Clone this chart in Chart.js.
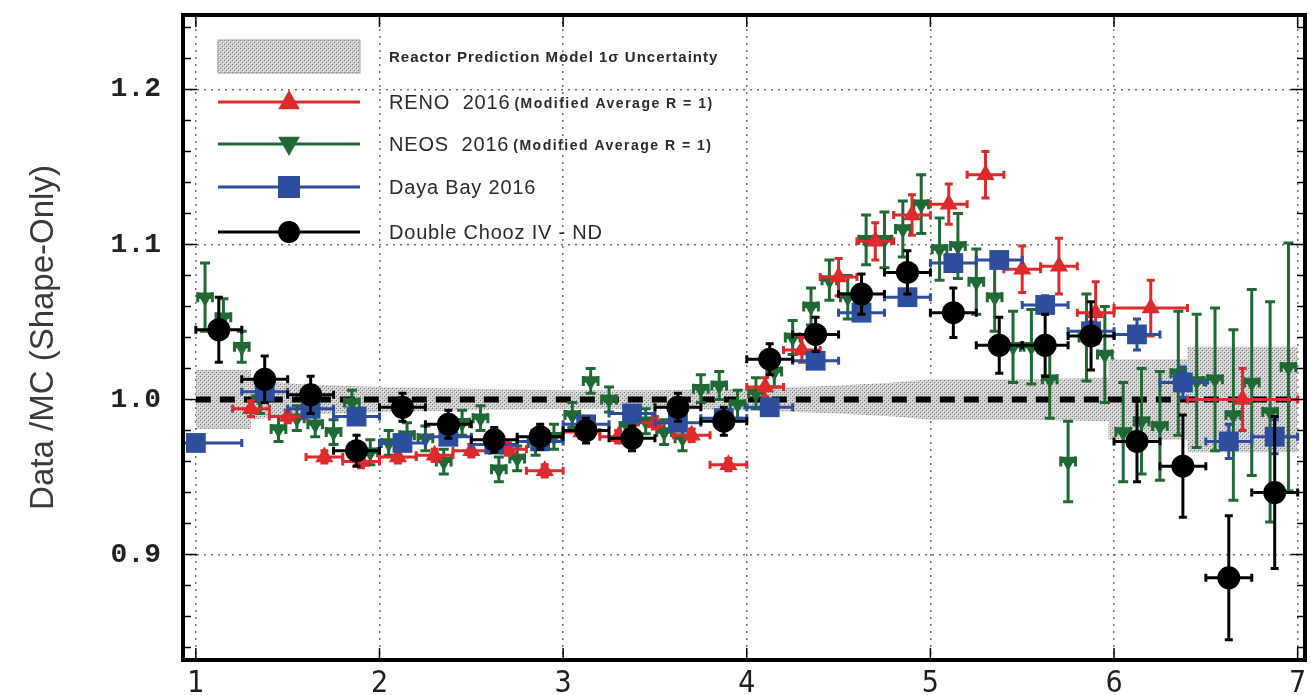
<!DOCTYPE html>
<html>
<head>
<meta charset="utf-8">
<script src="https://cdn.jsdelivr.net/npm/chart.js"></script>
<style>
  body { margin: 0; background: #fff; }
  canvas { display: block; }
</style>
</head>
<body>
<canvas id="ratioChart" width="1311" height="695"></canvas>
<script>
// Tick values
const xTicks = [1, 2, 3, 4, 5, 6, 7];
const yTicks = [0.9, 1.0, 1.1, 1.2];

// Reactor prediction model uncertainty band (energy, half width around 1)
const bandX    = [1.00, 1.30, 1.30, 1.55, 2.00, 2.50, 3.00, 3.50, 4.00, 4.50, 4.80, 5.00, 5.50, 5.97, 5.97, 6.40, 6.40, 7.00];
const bandHalf = [0.019, 0.019, 0.013, 0.010, 0.008, 0.007, 0.006, 0.006, 0.007, 0.009, 0.011, 0.013, 0.013, 0.014, 0.026, 0.026, 0.034, 0.034];

// RENO 2016
const renoX    = [1.3, 1.5, 1.7, 1.9, 2.1, 2.3, 2.5, 2.7, 2.9, 3.1, 3.3, 3.5, 3.7, 3.9, 4.1, 4.3, 4.5, 4.7, 4.9, 5.1, 5.3, 5.5, 5.7, 5.9, 6.2, 6.7];
const renoY    = [0.994, 0.989, 0.963, 0.960, 0.963, 0.964, 0.967, 0.968, 0.954, 0.979, 0.976, 0.985, 0.977, 0.958, 1.008, 1.032, 1.079, 1.102, 1.119, 1.126, 1.145, 1.084, 1.086, 1.056, 1.059, 1.000];
const renoXErr = [0.1, 0.1, 0.1, 0.1, 0.1, 0.1, 0.1, 0.1, 0.1, 0.1, 0.1, 0.1, 0.1, 0.1, 0.1, 0.1, 0.1, 0.1, 0.1, 0.1, 0.1, 0.1, 0.1, 0.1, 0.2, 0.3];
const renoYErr = [0.005, 0.004, 0.004, 0.004, 0.004, 0.004, 0.004, 0.004, 0.004, 0.004, 0.004, 0.004, 0.004, 0.004, 0.006, 0.008, 0.012, 0.012, 0.013, 0.013, 0.015, 0.015, 0.018, 0.020, 0.018, 0.020];

// NEOS 2016
const neosX = [1.05, 1.15, 1.25, 1.35, 1.45, 1.55, 1.65, 1.75, 1.85, 1.95,
               2.05, 2.15, 2.25, 2.35, 2.45, 2.55, 2.65, 2.75, 2.85, 2.95,
               3.05, 3.15, 3.25, 3.35, 3.45, 3.55, 3.65, 3.75, 3.85, 3.95,
               4.05, 4.15, 4.25, 4.35, 4.45, 4.55, 4.65, 4.75, 4.85, 4.95,
               5.05, 5.15, 5.25, 5.35, 5.45, 5.55, 5.65, 5.75, 5.85, 5.95,
               6.05, 6.15, 6.25, 6.35, 6.45, 6.55, 6.65, 6.75, 6.85, 6.95];
const neosY = [1.066, 1.053, 1.034, 1.000, 0.981, 0.988, 0.984, 0.979, 0.998, 0.966,
               0.972, 0.977, 0.975, 0.960, 0.985, 0.988, 0.955, 0.962, 0.972, 0.976,
               0.990, 1.012, 1.000, 0.983, 0.986, 0.979, 0.975, 1.007, 1.009, 0.997,
               1.004, 1.018, 1.040, 1.060, 1.077, 1.066, 1.103, 1.103, 1.110, 1.126,
               1.097, 1.099, 1.076, 1.066, 1.034, 1.034, 1.013, 0.960, 1.040, 1.029,
               0.979, 0.986, 0.983, 1.017, 1.012, 1.013, 0.990, 1.011, 0.992, 1.021];
const neosYErr = [0.022, 0.012, 0.010, 0.009, 0.008, 0.008, 0.008, 0.008, 0.008, 0.008,
                  0.008, 0.008, 0.008, 0.008, 0.008, 0.008, 0.008, 0.008, 0.008, 0.008,
                  0.008, 0.008, 0.008, 0.008, 0.008, 0.008, 0.008, 0.009, 0.009, 0.009,
                  0.010, 0.010, 0.011, 0.012, 0.013, 0.014, 0.016, 0.018, 0.018, 0.019,
                  0.020, 0.021, 0.021, 0.022, 0.023, 0.024, 0.025, 0.026, 0.028, 0.031,
                  0.032, 0.034, 0.035, 0.040, 0.043, 0.046, 0.055, 0.060, 0.071, 0.080];

// Daya Bay 2016
const dybX    = [1.0, 1.375, 1.625, 1.875, 2.125, 2.375, 2.625, 2.875, 3.125, 3.375, 3.625, 3.875,
                 4.125, 4.375, 4.625, 4.875, 5.125, 5.375, 5.625, 5.875, 6.125, 6.375, 6.625, 6.875];
const dybY    = [0.972, 1.005, 0.994, 0.989, 0.972, 0.976, 0.971, 0.973, 0.984, 0.991, 0.985, 0.988,
                 0.995, 1.025, 1.056, 1.066, 1.088, 1.090, 1.061, 1.044, 1.042, 1.011, 0.973, 0.976];
const dybXErr = [0.25, 0.125, 0.125, 0.125, 0.125, 0.125, 0.125, 0.125, 0.125, 0.125, 0.125, 0.125,
                 0.125, 0.125, 0.125, 0.125, 0.125, 0.125, 0.125, 0.125, 0.125, 0.125, 0.125, 0.125];
const dybYErr = [0.003, 0.003, 0.003, 0.003, 0.003, 0.003, 0.003, 0.003, 0.003, 0.003, 0.003, 0.003,
                 0.003, 0.004, 0.005, 0.005, 0.005, 0.005, 0.006, 0.006, 0.010, 0.010, 0.011, 0.011];

// Double Chooz IV - ND
const dcX    = [1.125, 1.375, 1.625, 1.875, 2.125, 2.375, 2.625, 2.875, 3.125, 3.375, 3.625, 3.875,
                4.125, 4.375, 4.625, 4.875, 5.125, 5.375, 5.625, 5.875, 6.125, 6.375, 6.625, 6.875];
const dcY    = [1.045, 1.013, 1.003, 0.967, 0.995, 0.984, 0.974, 0.976, 0.980, 0.975, 0.995, 0.986,
                1.026, 1.042, 1.068, 1.082, 1.056, 1.035, 1.035, 1.041, 0.973, 0.957, 0.885, 0.940];
const dcYErr = [0.021, 0.015, 0.012, 0.010, 0.009, 0.009, 0.008, 0.008, 0.008, 0.008, 0.009, 0.009,
                0.010, 0.011, 0.013, 0.014, 0.016, 0.018, 0.020, 0.022, 0.026, 0.033, 0.040, 0.049];

const RED = '#df2a2b';
const GREEN = '#1f6a34';
const BLUE = '#2c4e9c';
const BLACK = '#000000';

const points = (xs, ys) => xs.map((x, i) => ({ x: x, y: ys[i] }));
const fill = (n, v) => new Array(n).fill(v);

// dotted grey texture used for the uncertainty band
function bandPattern(ctx) {
    const c = document.createElement('canvas');
    c.width = 4; c.height = 4;
    const g = c.getContext('2d');
    g.fillStyle = '#cfcfcf';
    g.fillRect(0, 0, 4, 4);
    g.fillStyle = '#777777';
    g.fillRect(0, 0, 1, 1);
    g.fillRect(2, 2, 1, 1);
    g.fillStyle = '#f0f0f0';
    g.fillRect(1, 1, 1, 1);
    g.fillRect(3, 3, 1, 1);
    return ctx.createPattern(c, 'repeat');
}

const canvas = document.getElementById('ratioChart');
const ctx = canvas.getContext('2d');
const pattern = bandPattern(ctx);

// Draws x/y error bars with caps right before each dataset's markers
const errorBars = {
    id: 'errorBars',
    beforeDatasetDraw(chart, args) {
        const ds = chart.data.datasets[args.index];
        if (!ds.errX) return;
        const xs = chart.scales.x, ys = chart.scales.y;
        const a = chart.chartArea;
        const c = chart.ctx;
        c.save();
        c.beginPath();
        c.rect(a.left, a.top, a.right - a.left, a.bottom - a.top);
        c.clip();
        c.strokeStyle = ds.borderColor;
        c.lineWidth = ds.errWidth;
        const cap = ds.capSize;
        ds.data.forEach((p, i) => {
            const px = xs.getPixelForValue(p.x), py = ys.getPixelForValue(p.y);
            const x0 = xs.getPixelForValue(p.x - ds.errX[i]), x1 = xs.getPixelForValue(p.x + ds.errX[i]);
            const y0 = ys.getPixelForValue(p.y - ds.errY[i]), y1 = ys.getPixelForValue(p.y + ds.errY[i]);
            c.beginPath();
            c.moveTo(x0, py); c.lineTo(x1, py);
            c.moveTo(px, y0); c.lineTo(px, y1);
            c.moveTo(x0, py - cap); c.lineTo(x0, py + cap);
            c.moveTo(x1, py - cap); c.lineTo(x1, py + cap);
            c.moveTo(px - cap, y0); c.lineTo(px + cap, y0);
            c.moveTo(px - cap, y1); c.lineTo(px + cap, y1);
            c.stroke();
        });
        c.restore();
    }
};

// Thick frame with inward ticks on all four sides
const frame = {
    id: 'frame',
    afterDatasetsDraw(chart) {
        const c = chart.ctx, a = chart.chartArea;
        const xs = chart.scales.x, ys = chart.scales.y;
        c.save();
        c.strokeStyle = '#000';
        c.lineWidth = 1.5;
        c.beginPath();
        for (let v = 0.84; v <= 1.241; v += 0.02) {
            const y = ys.getPixelForValue(v);
            const major = Math.abs(v * 10 - Math.round(v * 10)) < 1e-6;
            const len = major ? 14 : 8;
            c.moveTo(a.left, y); c.lineTo(a.left + len, y);
            c.moveTo(a.right, y); c.lineTo(a.right - len, y);
        }
        xTicks.forEach(v => {
            const x = xs.getPixelForValue(v);
            c.moveTo(x, a.bottom); c.lineTo(x, a.bottom - 12);
            c.moveTo(x, a.top); c.lineTo(x, a.top + 12);
        });
        c.stroke();
        c.lineWidth = 4;
        c.strokeRect(a.left, a.top, a.right - a.left, a.bottom - a.top);
        c.restore();
    }
};

function marker(c, style, x, y, r, color) {
    c.fillStyle = color;
    c.beginPath();
    if (style === 'circle') {
        c.arc(x, y, r, 0, Math.PI * 2);
    } else if (style === 'rect') {
        c.rect(x - r, y - r, 2 * r, 2 * r);
    } else if (style === 'up') {
        c.moveTo(x, y - r); c.lineTo(x + r * 0.9, y + r * 0.6); c.lineTo(x - r * 0.9, y + r * 0.6);
    } else {
        c.moveTo(x, y + r); c.lineTo(x + r * 0.9, y - r * 0.6); c.lineTo(x - r * 0.9, y - r * 0.6);
    }
    c.closePath();
    c.fill();
}

// Legend drawn inside the plot, top left
const legendBox = {
    id: 'legendBox',
    afterDraw(chart) {
        const c = chart.ctx;
        c.save();
        c.fillStyle = pattern;
        c.fillRect(218, 40, 142, 33);
        c.strokeStyle = '#a0a0a0';
        c.lineWidth = 1;
        c.strokeRect(218, 40, 142, 33);
        c.fillStyle = '#2a2a2a';
        c.textBaseline = 'middle';
        c.letterSpacing = '1px';
        c.font = 'bold 15px "Liberation Sans", Arial, sans-serif';
        c.fillText('Reactor Prediction Model 1σ Uncertainty', 389, 58);

        const rows = [
            { y: 102, color: RED, style: 'up', r: 12, name: 'RENO  2016', note: '(Modified Average R = 1)' },
            { y: 144, color: GREEN, style: 'down', r: 12, name: 'NEOS  2016', note: '(Modified Average R = 1)' },
            { y: 187, color: BLUE, style: 'rect', r: 11, name: 'Daya Bay 2016', note: '' },
            { y: 232, color: BLACK, style: 'circle', r: 11, name: 'Double Chooz IV - ND', note: '' }
        ];
        rows.forEach(row => {
            c.strokeStyle = row.color;
            c.lineWidth = 3;
            c.beginPath();
            c.moveTo(218, row.y); c.lineTo(360, row.y);
            c.stroke();
            marker(c, row.style, 289, row.y, row.r, row.color);
            c.fillStyle = '#2a2a2a';
            c.letterSpacing = '0.8px';
            c.font = '20px "Liberation Sans", Arial, sans-serif';
            c.fillText(row.name, 389, row.y + 1);
            if (row.note) {
                const w = c.measureText(row.name).width;
                c.letterSpacing = '1.5px';
                c.font = 'bold 14px "Liberation Sans", Arial, sans-serif';
                c.fillText(row.note, 389 + w + 4, row.y + 2);
            }
        });
        c.restore();
    }
};

const chart = new Chart(ctx, {
    type: 'scatter',
    data: {
        datasets: [
            {
                label: 'band upper',
                data: points(bandX, bandX.map((x, i) => 1 + bandHalf[i])),
                showLine: true, borderWidth: 0, pointRadius: 0, borderColor: 'rgba(0,0,0,0)',
                fill: false, order: 10
            },
            {
                label: 'Reactor Prediction Model 1σ Uncertainty',
                data: points(bandX, bandX.map((x, i) => 1 - bandHalf[i])),
                showLine: true, borderWidth: 0, pointRadius: 0, borderColor: 'rgba(0,0,0,0)',
                fill: '-1', backgroundColor: pattern, order: 9
            },
            {
                label: 'unity',
                data: [{ x: 1, y: 1 }, { x: 7, y: 1 }],
                showLine: true, borderColor: '#000', borderWidth: 6, borderDash: [15, 9],
                pointRadius: 0, fill: false, order: 8
            },
            {
                label: 'NEOS 2016',
                data: points(neosX, neosY),
                errX: fill(neosX.length, 0.04), errY: neosYErr, errWidth: 3, capSize: 5,
                borderColor: GREEN, backgroundColor: GREEN, pointStyle: 'triangle', rotation: 180,
                pointRadius: 9.5, borderWidth: 0, order: 4
            },
            {
                label: 'RENO 2016',
                data: points(renoX, renoY),
                errX: renoXErr, errY: renoYErr, errWidth: 3, capSize: 4,
                borderColor: RED, backgroundColor: RED, pointStyle: 'triangle',
                pointRadius: 10.5, borderWidth: 0, order: 3
            },
            {
                label: 'Daya Bay 2016',
                data: points(dybX, dybY),
                errX: dybXErr, errY: dybYErr, errWidth: 3, capSize: 4,
                borderColor: BLUE, backgroundColor: BLUE, pointStyle: 'rect',
                pointRadius: 14, borderWidth: 0, order: 2
            },
            {
                label: 'Double Chooz IV - ND',
                data: points(dcX, dcY),
                errX: fill(dcX.length, 0.125), errY: dcYErr, errWidth: 3, capSize: 4,
                borderColor: BLACK, backgroundColor: BLACK, pointStyle: 'circle',
                pointRadius: 11.5, borderWidth: 0, order: 1
            }
        ]
    },
    options: {
        responsive: false,
        animation: false,
        events: [],
        layout: { autoPadding: false, padding: { top: 15, right: 6, left: 0, bottom: 0 } },
        plugins: {
            legend: { display: false },
            tooltip: { enabled: false },
            filler: { propagate: false }
        },
        scales: {
            x: {
                type: 'linear',
                min: 0.93,
                max: 7.04,
                afterBuildTicks: s => { s.ticks = xTicks.map(v => ({ value: v })); },
                afterFit: s => { s.height = 35; s.paddingLeft = 0; s.paddingRight = 0; },
                grid: { color: '#6f6f6f', lineWidth: 1.5, drawTicks: false },
                border: { display: false, dash: [2, 5] },
                ticks: {
                    padding: 6,
                    color: '#1e1e1e',
                    font: { family: '"Liberation Sans Narrow", "DejaVu Sans Condensed", sans-serif', size: 30 },
                    callback: v => String(v)
                }
            },
            y: {
                type: 'linear',
                min: 0.832,
                max: 1.248,
                afterBuildTicks: s => { s.ticks = yTicks.map(v => ({ value: v })); },
                afterFit: s => { s.width = 183; s.paddingTop = 0; s.paddingBottom = 0; },
                grid: { color: '#6f6f6f', lineWidth: 1.5, drawTicks: false },
                border: { display: false, dash: [2, 5] },
                ticks: {
                    padding: 22,
                    color: '#222',
                    font: { family: '"Liberation Mono", "DejaVu Sans Mono", monospace', size: 28, weight: 'bold' },
                    callback: v => v.toFixed(1)
                },
                title: {
                    display: true,
                    text: 'Data /MC (Shape-Only)',
                    color: '#3a3a3a',
                    padding: { top: 24, bottom: 0 },
                    font: { family: '"Liberation Sans", Arial, sans-serif', size: 33 }
                }
            }
        }
    },
    plugins: [errorBars, frame, legendBox]
});
</script>
</body>
</html>
